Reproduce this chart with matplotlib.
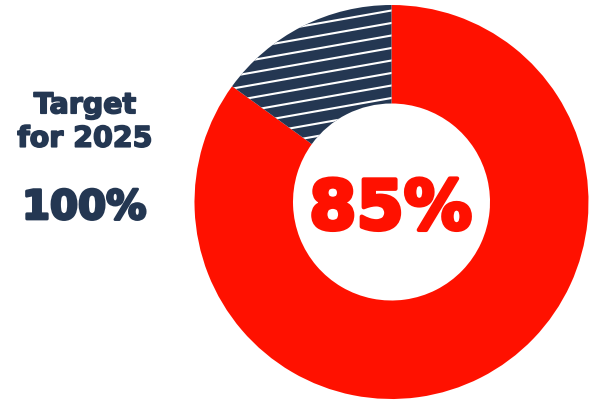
import numpy as np
import matplotlib.pyplot as plt
import matplotlib.patheffects as pe
from matplotlib.lines import Line2D

# data
labels = ["Achieved", "Remaining"]
values = [85, 15]
center_label = "85%"
target_title = "Target\nfor 2025"
target_value = "100%"

RED = "#FF1100"
NAVY = "#243752"

W, H = 589, 401
fig = plt.figure(figsize=(W / 100, H / 100), dpi=100)
ax = fig.add_axes([0, 0, 1, 1])

cx, cy, r_out = 391.5, H - 202, 197
wedges, _ = ax.pie(values, colors=[RED, NAVY], startangle=90, counterclock=False,
                   radius=r_out, center=(cx, cy),
                   wedgeprops=dict(width=r_out * 0.5, linewidth=0))
ax.set_xlim(0, W)
ax.set_ylim(0, H)
ax.set_aspect("equal")
ax.axis("off")

# white stripes on the remaining slice
navy = wedges[1]
slope = np.tan(np.radians(10))
spacing = 12.5
for off in np.arange(-300, 400, spacing):
    xs = np.array([cx - r_out, cx])
    ys = cy + off + 4 + slope * (xs - cx)
    ln = Line2D(xs, ys, color="white", lw=1.5, zorder=3)
    ax.add_line(ln)
    ln.set_clip_path(navy)


def heavy(color, w):
    return [pe.Stroke(linewidth=w, foreground=color), pe.Normal()]


ax.text(cx - 1, cy - 8, center_label, ha="center", va="center", color=RED,
        fontsize=49, fontweight="bold", family="DejaVu Sans",
        path_effects=heavy(RED, 3))
ax.text(85, H - 122, target_title, ha="center", va="center", color=NAVY,
        fontsize=20.5, fontweight="bold", family="DejaVu Sans", linespacing=1.25,
        path_effects=heavy(NAVY, 1.2))
ax.text(84, H - 208, target_value, ha="center", va="center", color=NAVY,
        fontsize=29, fontweight="bold", family="DejaVu Sans",
        path_effects=heavy(NAVY, 2))

fig.savefig("out.png", dpi=100)
